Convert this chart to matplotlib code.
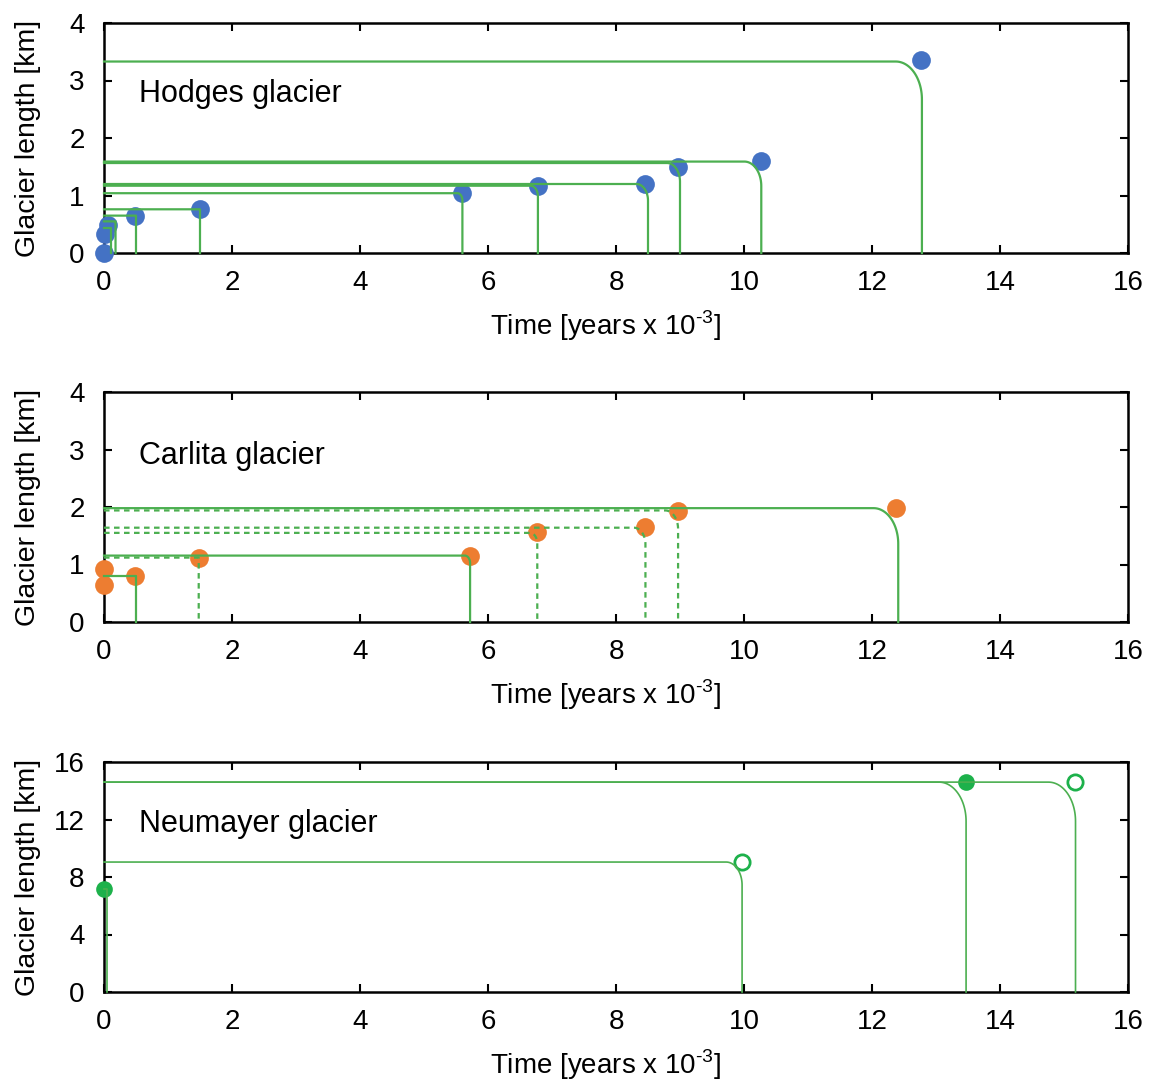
import numpy as np
import matplotlib.pyplot as plt

plt.rcParams['font.family'] = ['Liberation Sans', 'DejaVu Sans']
plt.rcParams['mathtext.fontset'] = 'custom'
plt.rcParams['mathtext.rm'] = 'Liberation Sans'

# Hodges glacier
hodges_x = [0, 0.02, 0.07, 0.48, 1.5, 5.6, 6.78, 8.45, 8.97, 10.27, 12.77]
hodges_y = [0, 0.33, 0.49, 0.64, 0.76, 1.04, 1.17, 1.2, 1.5, 1.6, 3.35]
hodges_line_x = [0.11, 0.18, 0.5, 1.5, 5.6, 6.78, 8.5, 9.0, 10.27, 12.78]
hodges_line_y = [0.43, 0.55, 0.65, 0.76, 1.04, 1.17, 1.2, 1.565, 1.59, 3.33]

# Carlita glacier
carlita_x = [0, 0, 0.48, 1.48, 5.72, 6.77, 8.45, 8.97, 12.38]
carlita_y = [0.92, 0.64, 0.8, 1.11, 1.15, 1.57, 1.65, 1.93, 1.98]
carlita_line_x = [0.5, 1.48, 5.72, 6.77, 8.46, 8.97, 12.41]
carlita_line_y = [0.8, 1.12, 1.155, 1.55, 1.64, 1.94, 1.98]
carlita_dashed = [False, True, False, True, True, True, False]

# Neumayer glacier
neu_filled_x = [0, 13.47]
neu_filled_y = [7.17, 14.6]
neu_open_x = [9.97, 15.17]
neu_open_y = [9.04, 14.6]
neu_line_x = [0.05, 9.97, 13.47, 15.18]
neu_line_y = [7.17, 9.04, 14.6, 14.6]

green = '#4caf50'
W, H = 1157, 1080
fig = plt.figure(figsize=(W / 100, H / 100), dpi=100)

left, width = 104 / W, 1024 / W
tops = [23, 392, 762]


def make_ax(top, ymax, yticks, name, name_y):
    ax = fig.add_axes([left, 1 - (top + 230) / H, width, 230 / H])
    ax.set_xlim(0, 16)
    ax.set_ylim(0, ymax)
    ax.set_xticks(range(0, 17, 2))
    ax.set_yticks(yticks)
    ax.tick_params(direction='in', length=6, width=1.5, labelsize=20,
                   top=True, right=True)
    ax.tick_params(axis='x', pad=12)
    ax.tick_params(axis='y', pad=14)
    for s in ax.spines.values():
        s.set_linewidth(1.8)
    ax.set_xlabel('Time [years x 10$^{\\text{-3}}$]', fontsize=20)
    ax.xaxis.set_label_coords(0.49, -0.24)
    ax.set_ylabel('Glacier length [km]', fontsize=20.5)
    ax.yaxis.set_label_coords(-0.062, 0.5)
    ax.text(0.034, name_y, name, transform=ax.transAxes, fontsize=22,
            va='center', ha='left')
    return ax


def corner_line(ax, xe, ye, ymax, lw, ls='-'):
    ppx = 1024 / 16
    ppy = 230 / ymax
    r = min(27, 0.16 * xe ** 2)
    rx = min(r / ppx, xe)
    ry = min(1.45 * r / ppy, ye)
    t = np.linspace(np.pi / 2, 0, 30)
    xs = np.concatenate([[0], xe - rx + rx * np.cos(t), [xe]])
    ys = np.concatenate([[ye], ye - ry + ry * np.sin(t), [0]])
    ax.plot(xs, ys, color=green, lw=lw, ls=ls, zorder=4, clip_on=False)


ax1 = make_ax(tops[0], 4, range(0, 5), 'Hodges glacier', 0.69)
ax1.plot(hodges_x, hodges_y, 'o', color='#4472c4', ms=13.5, mec='none',
         zorder=3, clip_on=False)
for xe, ye in zip(hodges_line_x, hodges_line_y):
    corner_line(ax1, xe, ye, 4, 1.6)

ax2 = make_ax(tops[1], 4, range(0, 5), 'Carlita glacier', 0.72)
ax2.plot(carlita_x, carlita_y, 'o', color='#ed7d31', ms=13.5, mec='none',
         zorder=3, clip_on=False)
for xe, ye, d in zip(carlita_line_x, carlita_line_y, carlita_dashed):
    corner_line(ax2, xe, ye, 4, 1.6, (0, (2.5, 2)) if d else '-')

ax3 = make_ax(tops[2], 16, range(0, 17, 4), 'Neumayer glacier', 0.73)
ax3.plot(neu_filled_x, neu_filled_y, 'o', color='#1db14b', ms=12, mec='none',
         zorder=3, clip_on=False)
ax3.plot(neu_open_x, neu_open_y, 'o', mfc='white', mec='#1db14b', mew=2,
         ms=11, zorder=3, clip_on=False)
for xe, ye in zip(neu_line_x, neu_line_y):
    corner_line(ax3, xe, ye, 16, 1.2)

fig.savefig('out.png', dpi=100)
